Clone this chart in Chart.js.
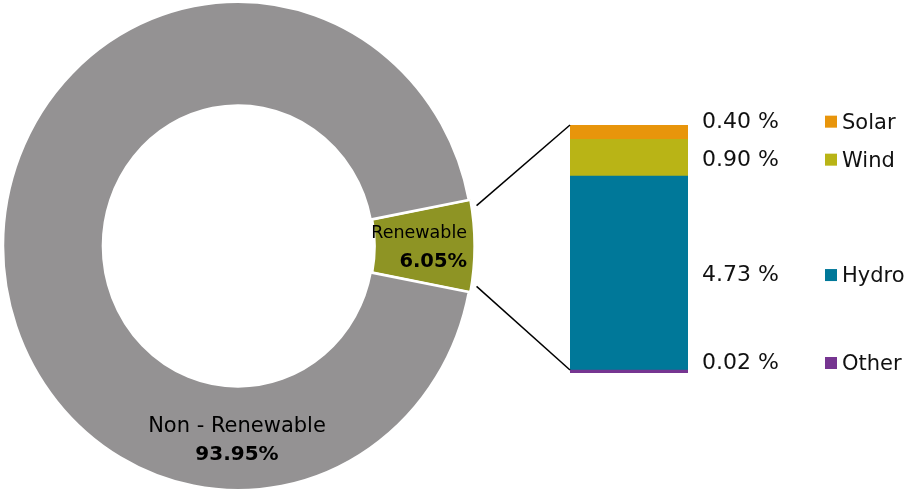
<!DOCTYPE html>
<html>
<head>
<meta charset="utf-8">
<script src="https://cdn.jsdelivr.net/npm/chart.js@4.4.1/dist/chart.umd.min.js"></script>
<style>
  html, body { margin: 0; padding: 0; background: #ffffff; overflow: hidden; }
  #wrap { position: relative; width: 905px; height: 490px; }
  #wrap canvas { position: absolute; left: 0; top: 0; }
</style>
</head>
<body>
<div id="wrap">
  <canvas id="ring" width="905" height="490"></canvas>
  <canvas id="split" width="905" height="490"></canvas>
</div>
<script>
// Share of generation, %
const shareLabels = ['Renewable', 'Non - Renewable'];
const shareValues = [6.05, 93.95];
const shareColors = ['#8e9424', '#949293'];

// Breakdown of the renewable share, %, stacked bottom to top
const sourceLabels = ['Other', 'Hydro', 'Wind', 'Solar'];
const sourceValues = [0.02, 4.73, 0.90, 0.40];
const sourceColors = ['#763591', '#007899', '#b9b416', '#e8950b'];

const FONT = '"DejaVu Sans", Verdana, sans-serif';
const SQUASH = 0.962;           // ring is drawn slightly narrower than tall
Chart.defaults.font.family = FONT;

const shareTotal = shareValues.reduce((a, b) => a + b, 0);
const renewableTotal = sourceValues.reduce((a, b) => a + b, 0);

function ringCenterX(chart) {
  return (chart.chartArea.left + chart.chartArea.right) / 2;
}

// Horizontal squash of the ring around its centre
const squashPlugin = {
  id: 'squash',
  beforeDatasetsDraw(chart) {
    const ctx = chart.ctx, cx = ringCenterX(chart);
    ctx.save();
    ctx.translate(cx, 0);
    ctx.scale(SQUASH, 1);
    ctx.translate(-cx, 0);
  },
  afterDatasetsDraw(chart) {
    chart.ctx.restore();
  }
};

// Name and value inside each ring slice
const ringLabelPlugin = {
  id: 'ringLabels',
  afterDraw(chart) {
    const ctx = chart.ctx;
    const cx = ringCenterX(chart);
    chart.getDatasetMeta(0).data.forEach((arc, i) => {
      const midR = (arc.outerRadius + arc.innerRadius) / 2;
      const big = shareValues[i] > 50;
      const ang = big ? Math.PI / 2 : (arc.startAngle + arc.endAngle) / 2;
      const x = cx + Math.cos(ang) * midR * SQUASH;
      const y = arc.y + Math.sin(ang) * midR;
      const nameSize = big ? 21 : 17.5;
      const valSize = big ? 20 : 19.5;
      ctx.save();
      ctx.fillStyle = '#000000';
      ctx.textBaseline = 'alphabetic';
      ctx.textAlign = big ? 'center' : 'right';
      const tx = big ? x - 1 : x + 44;
      ctx.font = nameSize + 'px ' + FONT;
      ctx.fillText(shareLabels[i], tx, y - 14 + nameSize * 0.365);
      ctx.font = 'bold ' + valSize + 'px ' + FONT;
      ctx.fillText(shareValues[i].toFixed(2) + '%', tx, y + 14 + valSize * 0.365);
      ctx.restore();
    });
  }
};

const ring = new Chart(document.getElementById('ring'), {
  type: 'doughnut',
  data: {
    labels: shareLabels,
    datasets: [{
      data: shareValues,
      backgroundColor: shareColors,
      borderColor: '#ffffff',
      borderWidth: 2.5,
      offset: [4, 0],
      hoverOffset: 0
    }]
  },
  options: {
    responsive: false,
    animation: false,
    events: [],
    radius: 244.25,
    cutout: '57.5%',
    rotation: 90 - 180 * shareValues[0] / shareTotal,
    layout: { padding: { left: 0, right: 429, top: 2, bottom: 0 } },
    plugins: { legend: { display: false }, tooltip: { enabled: false } }
  },
  plugins: [squashPlugin, ringLabelPlugin]
});

// Lines joining the renewable slice to the stacked bar
const connectorPlugin = {
  id: 'connector',
  afterDraw(chart) {
    const arc = ring.getDatasetMeta(0).data[0];
    const cx = ringCenterX(ring);
    const mid = (arc.startAngle + arc.endAngle) / 2;
    const half = (arc.endAngle - arc.startAngle) / 2;
    const r = arc.outerRadius + 7;
    const barEl = chart.getDatasetMeta(0).data[0];
    const left = barEl.x - barEl.width / 2;
    const yTop = chart.scales.y.getPixelForValue(renewableTotal);
    const yBottom = chart.scales.y.getPixelForValue(0);
    const ctx = chart.ctx;
    ctx.save();
    ctx.strokeStyle = '#000000';
    ctx.lineWidth = 1.5;
    [[-1, yTop], [1, yBottom - 3]].forEach(([s, yEnd]) => {
      const a = mid + s * half * 0.85;
      ctx.beginPath();
      ctx.moveTo(cx + Math.cos(a) * r * SQUASH, arc.y + Math.sin(a) * r);
      ctx.lineTo(left, yEnd);
      ctx.stroke();
    });
    ctx.restore();
  }
};

// Value labels and legend beside the stacked bar
const sideLabelPlugin = {
  id: 'sideLabels',
  afterDraw(chart) {
    const ctx = chart.ctx;
    const area = chart.chartArea;
    // top to bottom
    const order = sourceLabels.map((_, i) => i).reverse();
    const ys = order.map(i => {
      const el = chart.getDatasetMeta(i).data[0];
      return (el.y + el.base) / 2;
    });
    const last = ys.length - 1;
    ys[last] = Math.min(ys[last], area.bottom - 12);
    for (let k = last - 1; k >= 0; k--) {
      ys[k] = Math.min(ys[k], ys[k + 1] - 38);
    }
    ctx.save();
    ctx.textBaseline = 'alphabetic';
    ctx.textAlign = 'left';
    order.forEach((i, k) => {
      const y = ys[k];
      ctx.font = '22px ' + FONT;
      ctx.fillStyle = '#111111';
      ctx.fillText(sourceValues[i].toFixed(2) + ' %', area.right + 14, y + 8);
      ctx.fillStyle = sourceColors[i];
      ctx.fillRect(area.right + 137, y - 4, 12, 12);
      ctx.font = '21px ' + FONT;
      ctx.fillStyle = '#111111';
      ctx.fillText(sourceLabels[i], area.right + 154, y + 9);
    });
    ctx.restore();
  }
};

const split = new Chart(document.getElementById('split'), {
  type: 'bar',
  data: {
    labels: ['Renewable'],
    datasets: sourceLabels.map((label, i) => ({
      label: label,
      data: [sourceValues[i]],
      backgroundColor: sourceColors[i],
      borderWidth: 0,
      minBarLength: i === 0 ? 3 : 0,
      categoryPercentage: 1,
      barPercentage: 1
    }))
  },
  options: {
    responsive: false,
    animation: false,
    events: [],
    layout: { padding: { left: 570, right: 217, top: 125, bottom: 117 } },
    scales: {
      x: { display: false, stacked: true },
      y: { display: false, stacked: true, min: 0, max: renewableTotal }
    },
    plugins: { legend: { display: false }, tooltip: { enabled: false } }
  },
  plugins: [connectorPlugin, sideLabelPlugin]
});
</script>
</body>
</html>
